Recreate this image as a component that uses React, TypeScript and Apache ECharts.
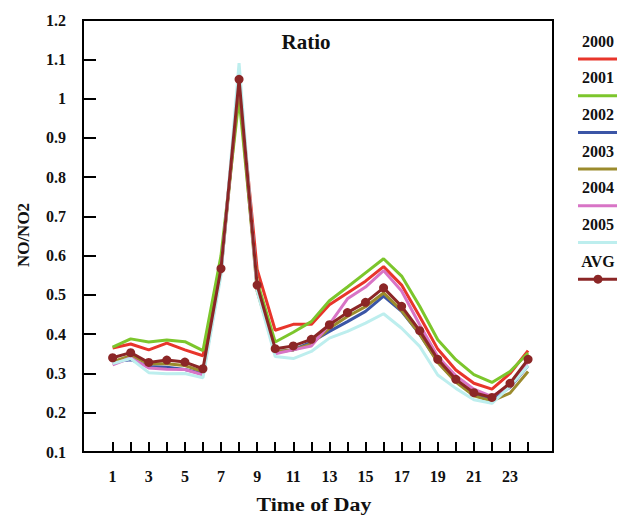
import React, { useEffect, useRef } from "react";
import * as echarts from "echarts";

const hours = [1, 2, 3, 4, 5, 6, 7, 8, 9, 10, 11, 12, 13, 14, 15, 16, 17, 18, 19, 20, 21, 22, 23, 24];
const xTickValues = [1, 2, 3, 4, 5, 6, 7, 8, 9, 10, 11, 12, 13, 14, 15, 16, 17, 18, 19, 20, 21, 22, 23, 24];
const xLabelValues = [1, 3, 5, 7, 9, 11, 13, 15, 17, 19, 21, 23];

const seriesNames = ["2000", "2001", "2002", "2003", "2004", "2005", "AVG"];
const seriesColors = ["#e8352b", "#7cc62c", "#3b55a6", "#9b8b2d", "#d874c6", "#bdeeee", "#8b2626"];

const y2000 = [0.365, 0.375, 0.36, 0.377, 0.36, 0.345, 0.57, 1.04, 0.565, 0.41, 0.425, 0.425, 0.475, 0.505, 0.535, 0.572, 0.525, 0.445, 0.362, 0.309, 0.275, 0.26, 0.3, 0.358];
const y2001 = [0.367, 0.388, 0.38, 0.385, 0.381, 0.358, 0.6, 1.0, 0.535, 0.38, 0.405, 0.432, 0.485, 0.52, 0.556, 0.592, 0.548, 0.471, 0.386, 0.335, 0.297, 0.277, 0.305, 0.352];
const y2002 = [0.33, 0.335, 0.318, 0.316, 0.31, 0.3, 0.56, 1.05, 0.52, 0.355, 0.36, 0.38, 0.407, 0.432, 0.458, 0.497, 0.458, 0.4, 0.33, 0.28, 0.245, 0.235, 0.265, 0.32];
const y2003 = [0.33, 0.345, 0.325, 0.325, 0.32, 0.305, 0.56, 1.03, 0.51, 0.355, 0.36, 0.375, 0.415, 0.445, 0.47, 0.505, 0.46, 0.4, 0.328, 0.278, 0.243, 0.23, 0.25, 0.305];
const y2004 = [0.322, 0.34, 0.314, 0.311, 0.31, 0.296, 0.56, 1.06, 0.52, 0.35, 0.36, 0.37, 0.425, 0.49, 0.52, 0.562, 0.51, 0.424, 0.343, 0.294, 0.26, 0.241, 0.27, 0.33];
const y2005 = [0.325, 0.338, 0.302, 0.299, 0.3, 0.289, 0.55, 1.09, 0.51, 0.343, 0.338, 0.356, 0.39, 0.407, 0.428, 0.452, 0.415, 0.369, 0.296, 0.262, 0.233, 0.224, 0.267, 0.32];
const yAvg = [0.34, 0.353, 0.328, 0.334, 0.329, 0.312, 0.567, 1.049, 0.525, 0.363, 0.37, 0.387, 0.424, 0.455, 0.481, 0.518, 0.471, 0.409, 0.336, 0.285, 0.251, 0.239, 0.275, 0.336];

const seriesValues = [y2000, y2001, y2002, y2003, y2004, y2005, yAvg];

const FONT = "'Liberation Serif', 'Times New Roman', serif";

export default function App() {
  const ref = useRef<HTMLDivElement>(null);

  useEffect(() => {
    if (!ref.current) return;
    const chart = echarts.init(ref.current, null, { renderer: "svg" });

    const series = seriesNames.map((name, i) => {
      const isAvg = name === "AVG";
      return {
        name,
        type: "line",
        data: hours.map((h, k) => [h, seriesValues[i][k]]),
        showSymbol: isAvg,
        symbol: "circle",
        symbolSize: 9,
        lineStyle: { color: seriesColors[i], width: 3 },
        itemStyle: { color: seriesColors[i] },
        z: isAvg ? 5 : 2,
        silent: true,
      };
    });

    const legendGraphics: any[] = [];
    seriesNames.forEach((name, i) => {
      const lineY = 59 + i * 36.7;
      legendGraphics.push({
        type: "text",
        x: 598,
        y: lineY - 18,
        style: {
          text: name,
          font: `bold 16px ${FONT}`,
          fill: "#111",
          textAlign: "center",
          textVerticalAlign: "middle",
        },
      });
      legendGraphics.push({
        type: "line",
        shape: { x1: 578, y1: lineY, x2: 620, y2: lineY },
        style: { stroke: seriesColors[i], lineWidth: 3 },
      });
      if (name === "AVG") {
        legendGraphics.push({
          type: "circle",
          shape: { cx: 598, cy: lineY, r: 4.5 },
          style: { fill: seriesColors[i] },
        });
      }
    });

    chart.setOption({
      animation: false,
      backgroundColor: "#ffffff",
      grid: {
        left: 83,
        top: 20,
        right: 64,
        bottom: 65,
        show: true,
        borderColor: "#000",
        borderWidth: 2,
        backgroundColor: "transparent",
      },
      xAxis: {
        type: "value",
        min: -0.64,
        max: 25.38,
        splitLine: { show: false },
        axisLine: { show: true, onZero: false, lineStyle: { color: "#000", width: 2 } },
        axisTick: {
          show: true,
          inside: true,
          length: 10,
          customValues: xTickValues,
          lineStyle: { color: "#000", width: 2 },
        },
        axisLabel: {
          customValues: xLabelValues,
          margin: 16,
          color: "#111",
          fontFamily: FONT,
          fontWeight: "bold",
          fontSize: 16,
        },
      },
      yAxis: {
        type: "value",
        min: 0.1,
        max: 1.2,
        interval: 0.1,
        splitLine: { show: false },
        axisLine: { show: true, onZero: false, lineStyle: { color: "#000", width: 2 } },
        axisTick: {
          show: true,
          inside: true,
          length: 13,
          lineStyle: { color: "#000", width: 2 },
        },
        axisLabel: {
          margin: 17,
          color: "#111",
          fontFamily: FONT,
          fontWeight: "bold",
          fontSize: 16,
          formatter: (v: number) => String(+v.toFixed(1)),
        },
      },
      graphic: [
        {
          type: "text",
          x: 306,
          y: 42,
          style: {
            text: "Ratio",
            font: `bold 21px ${FONT}`,
            fill: "#111",
            textAlign: "center",
            textVerticalAlign: "middle",
          },
        },
        {
          type: "text",
          x: 23,
          y: 235,
          rotation: Math.PI / 2,
          style: {
            text: "NO/NO2",
            font: `bold 17px ${FONT}`,
            fill: "#111",
            textAlign: "center",
            textVerticalAlign: "middle",
          },
        },
        {
          type: "text",
          x: 314,
          y: 505,
          scaleX: 1.15,
          style: {
            text: "Time of Day",
            font: `bold 19px ${FONT}`,
            fill: "#111",
            textAlign: "center",
            textVerticalAlign: "middle",
          },
        },
        ...legendGraphics,
      ],
      series,
    });

    return () => chart.dispose();
  }, []);

  return (
    <div
      ref={ref}
      style={{ position: "fixed", left: 0, top: 0, width: 617, height: 517 }}
    />
  );
}
